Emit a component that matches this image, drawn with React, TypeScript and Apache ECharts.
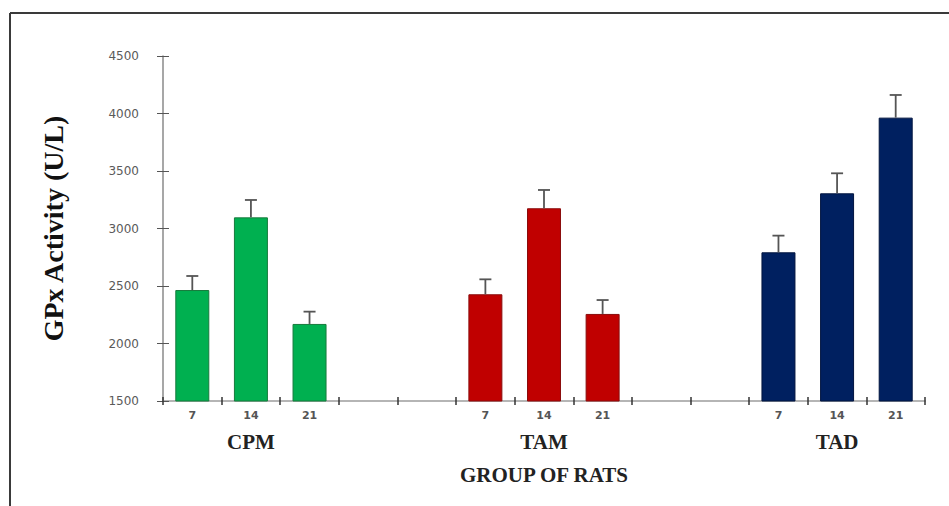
import React, { useEffect, useRef } from "react";
import * as echarts from "echarts";

const groups = ["CPM", "TAM", "TAD"];
const days = ["7", "14", "21"];
const cpmValues = [2465, 3097, 2170];
const cpmErrors = [122, 151, 107];
const tamValues = [2428, 3176, 2257];
const tamErrors = [130, 159, 121];
const tadValues = [2793, 3306, 3964];
const tadErrors = [145, 174, 197];
const yMin = 1500;
const yMax = 4500;
const yStep = 500;
const gapsBetweenGroups = 2;

const groupValues = [cpmValues, tamValues, tadValues];
const groupErrors = [cpmErrors, tamErrors, tadErrors];
const groupColors = ["#00B050", "#C00000", "#002060"];
const groupBorders = ["#177a3c", "#8a0c0c", "#00143f"];

const W = 949;
const H = 506;
const GRID = { left: 163, right: 24, top: 56, bottom: 105 };

export default function App() {
  const ref = useRef<HTMLDivElement>(null);
  useEffect(() => {
    if (!ref.current) return;
    const chart = echarts.init(ref.current, undefined, { renderer: "svg" });

    const categories: string[] = [];
    const dayOf: Record<string, string> = {};
    const groupLabelAt: Record<string, string> = {};
    const indexOf: number[][] = [];
    groups.forEach((g, gi) => {
      indexOf.push([]);
      days.forEach((d, di) => {
        const key = `${g}-${d}`;
        indexOf[gi].push(categories.length);
        categories.push(key);
        dayOf[key] = d;
        if (di === 1) groupLabelAt[key] = g;
      });
      if (gi < groups.length - 1) {
        for (let k = 0; k < gapsBetweenGroups; k++) categories.push(`gap-${gi}-${k}`);
      }
    });

    const barSeries = groups.map((g, gi) => {
      const data: (number | null)[] = categories.map(() => null);
      indexOf[gi].forEach((idx, di) => {
        data[idx] = groupValues[gi][di];
      });
      return {
        name: g,
        type: "bar",
        data,
        barWidth: "58%",
        barGap: "-100%",
        itemStyle: { color: groupColors[gi], borderColor: groupBorders[gi], borderWidth: 1 },
        z: 2,
      };
    });

    const errData: number[][] = [];
    groups.forEach((g, gi) => {
      indexOf[gi].forEach((idx, di) => {
        errData.push([idx, groupValues[gi][di], groupErrors[gi][di]]);
      });
    });

    const baseY = {
      type: "value",
      min: yMin,
      max: yMax,
      interval: yStep,
      splitLine: { show: false },
    };
    const plotWidth = W - GRID.left - GRID.right;

    const option: any = {
      animation: false,
      backgroundColor: "#ffffff",
      grid: GRID,
      graphic: [
        { type: "line", shape: { x1: 10, y1: 13, x2: 10, y2: H }, style: { stroke: "#3a3a3a", lineWidth: 2 } },
        { type: "line", shape: { x1: 10, y1: 13, x2: W, y2: 13 }, style: { stroke: "#3a3a3a", lineWidth: 2 } },
      ],
      xAxis: [
        {
          type: "category",
          data: categories,
          position: "bottom",
          axisLine: { lineStyle: { color: "#b5b5b5", width: 2 } },
          axisTick: { show: true, length: 4, lineStyle: { color: "#333", width: 1.5 } },
          axisLabel: {
            interval: 0,
            margin: 9,
            formatter: (v: string) => dayOf[v] || "",
            color: "#555",
            fontFamily: "DejaVu Sans",
            fontSize: 11,
            fontWeight: "bold",
          },
          name: "GROUP OF RATS",
          nameLocation: "middle",
          nameGap: 63,
          nameTextStyle: { fontFamily: "Liberation Serif", fontWeight: "bold", fontSize: 21, color: "#222" },
        },
        {
          type: "category",
          data: categories,
          position: "bottom",
          offset: 0,
          axisLine: { show: false },
          axisTick: { show: true, inside: true, length: 4, lineStyle: { color: "#333", width: 1.5 } },
          axisLabel: {
            interval: 0,
            margin: 30,
            formatter: (v: string) => groupLabelAt[v] || "",
            color: "#222",
            fontFamily: "Liberation Serif",
            fontWeight: "bold",
            fontSize: 21,
          },
        },
      ],
      yAxis: [
        {
          ...baseY,
          position: "left",
          axisLine: { show: true, lineStyle: { color: "#8a8a8a", width: 1.5 } },
          axisTick: { show: true, length: 6, lineStyle: { color: "#555", width: 1 } },
          axisLabel: {
            margin: 24,
            color: "#5a5a5a",
            fontFamily: "DejaVu Sans",
            fontSize: 12,
            formatter: (v: number) => String(v),
          },
          name: "GPx Activity (U/L)",
          nameLocation: "middle",
          nameGap: 96,
          nameTextStyle: { fontFamily: "Liberation Serif", fontWeight: "bold", fontSize: 28, color: "#111" },
        },
        {
          ...baseY,
          position: "right",
          offset: -plotWidth,
          axisLine: { show: false },
          axisTick: { show: true, inside: false, length: 6, lineStyle: { color: "#555", width: 1 } },
          axisLabel: { show: false },
        },
      ],
      series: [
        ...barSeries,
        {
          type: "custom",
          data: errData,
          z: 3,
          renderItem: (params: any, api: any) => {
            const x = api.value(0);
            const v = api.value(1);
            const e = api.value(2);
            const p0 = api.coord([x, v]);
            const p1 = api.coord([x, v + e]);
            const half = 6;
            const style = { stroke: "#555", lineWidth: 1.8 };
            return {
              type: "group",
              children: [
                { type: "line", shape: { x1: p0[0], y1: p0[1], x2: p1[0], y2: p1[1] }, style },
                { type: "line", shape: { x1: p1[0] - half, y1: p1[1], x2: p1[0] + half, y2: p1[1] }, style },
              ],
            };
          },
        },
      ],
    };
    chart.setOption(option);
    return () => chart.dispose();
  }, []);
  return (
    <div
      ref={ref}
      style={{ position: "fixed", left: 0, top: 0, width: W, height: H }}
    />
  );
}
